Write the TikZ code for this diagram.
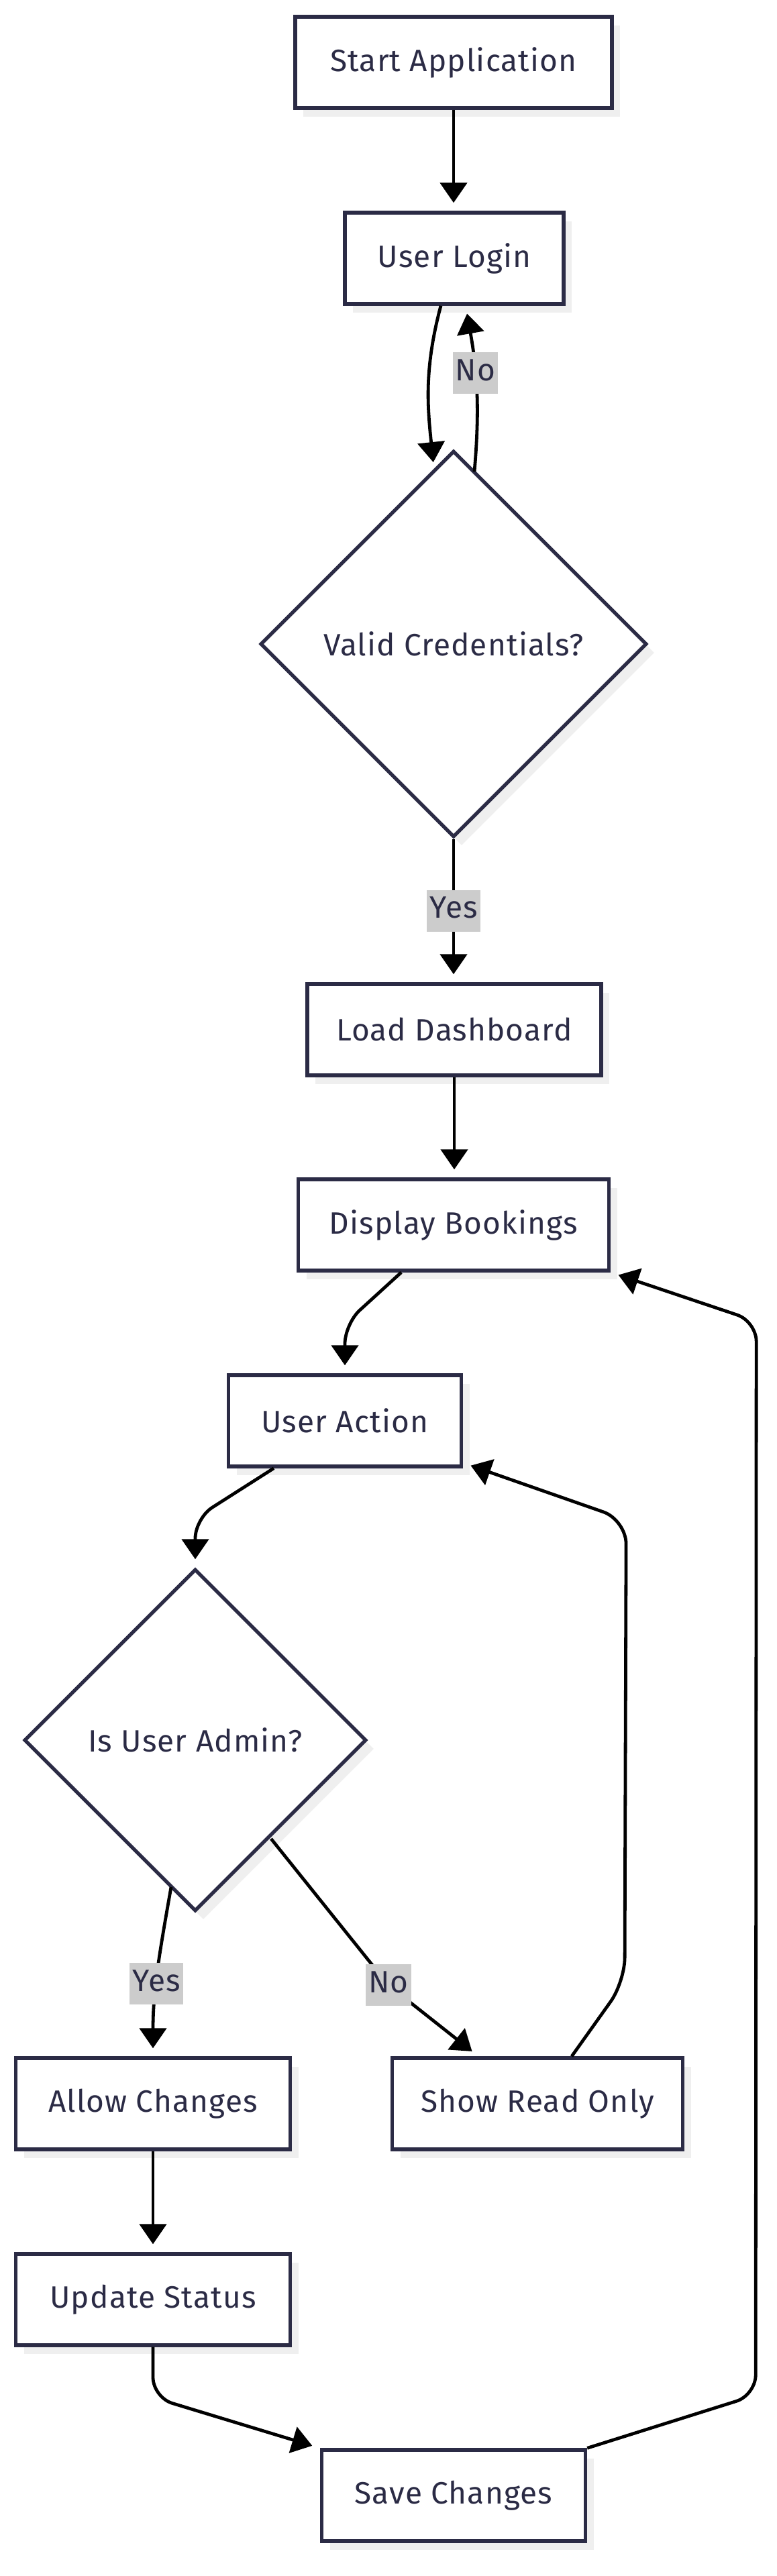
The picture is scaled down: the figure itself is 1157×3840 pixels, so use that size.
\documentclass[tikz,border=0pt]{standalone}
\usepackage{fontspec}
\setmainfont[LetterSpace=2.5]{Fira Sans}
\usetikzlibrary{arrows.meta,shapes.geometric,shadows,calc,positioning}
\definecolor{boxline}{HTML}{2B2B45}
\definecolor{boxtext}{HTML}{2B2B45}
\definecolor{shade}{HTML}{EFEFEF}
\definecolor{tagfill}{HTML}{CCCCCC}

\tikzset{
    proc/.style={draw=boxline, line width=2.7pt, fill=white, minimum height=68pt,
        text=boxtext, font=\fontsize{23}{27}\selectfont,
        drop shadow={shadow xshift=6pt, shadow yshift=-6.5pt, fill=shade, opacity=1}},
    decide/.style={proc, diamond, aspect=1, inner sep=0pt},
    flow/.style={line width=2.4pt, -{Triangle[length=15pt,width=20pt]}, shorten >=6pt},
    tag/.style={fill=tagfill, text=boxtext, font=\fontsize{23}{27}\selectfont, sharp corners,
        inner xsep=2pt, inner ysep=5pt, text height=16pt, text depth=5pt}
}

\begin{document}
\begin{tikzpicture}[x=0.5pt, y=0.5pt]

    % ---------------- Canvas ----------------
    \fill[white] (0,0) rectangle (1157,-3840);
    \useasboundingbox (0,0) rectangle (1157,-3840);

    % ---------------- Login part ----------------
    \node[proc, minimum width=236pt] (start) at (676,-93) {Start Application};
    \node[proc, minimum width=163pt] (login) at (677,-385) {User Login};
    \node[decide, minimum width=288pt, minimum height=288pt] (valid) at (676,-960) {Valid Credentials?};
    \node[proc, minimum width=219pt] (load) at (677,-1535) {Load Dashboard};
    \node[proc, minimum width=231.5pt] (display) at (676,-1826) {Display Bookings};

    % ---------------- Admin part ----------------
    \node[proc, minimum width=173.5pt] (action) at (514,-2118) {User Action};
    \node[decide, minimum width=255pt, minimum height=255pt] (admin) at (291,-2594) {Is User Admin?};
    \node[proc, minimum width=204.5pt] (allow) at (228,-3136) {Allow Changes};
    \node[proc, minimum width=216.5pt] (readonly) at (801,-3136) {Show Read Only};
    \node[proc, minimum width=204.5pt] (update) at (228,-3428) {Update Status};
    \node[proc, minimum width=196.5pt] (save) at (676,-3720) {Save Changes};

    % ---------------- Connectors ----------------
    \draw[flow] (start.south) -- (start.south |- login.north);
    \draw[flow] ($(login.south)+(-20,0)$) to[out=-105,in=96] ($(valid.center)+(-29,259)$);
    \draw[flow] ($(valid.center)+(31,257)$) to[out=85,in=-80]
        node[tag, pos=0.6] {No} ($(login.south)+(17,0)$);
    \draw[flow] (valid.south) -- node[tag] {Yes} (valid.south |- load.north);
    \draw[flow] (load.south) -- (load.south |- display.north);
    \draw[flow, rounded corners=15pt] ($(display.south)+(-78,0)$)
        -- ($(action.north)+(0,74)$) -- (action.north);
    \draw[flow, rounded corners=15pt] ($(action.south)+(-106,0)$)
        -- ($(admin.north)+(0,73)$) -- (admin.north);
    \draw[flow] ($(admin.center)+(-36,-219)$) to[out=-100,in=90]
        node[tag, pos=0.58] {Yes} (allow.north);
    \draw[flow, rounded corners=15pt] ($(admin.center)+(113,-147)$)
        -- ($(readonly.north)+(-222,106)$) node[tag] {No}
        -- ($(readonly.north)+(-88,0)$);
    \draw[flow, rounded corners=18pt] ($(readonly.north)+(51,0)$)
        -- ($(readonly.north)+(130,111)$)
        -- ($(action.south east)+(243,-77)$)
        -- ($(action.south east)+(0,8)$);
    \draw[flow] (allow.south) -- (update.north);
    \draw[flow, rounded corners=15pt] (update.south)
        -- ($(update.south)+(0,-75)$) -- (save.north west);
    \draw[flow, rounded corners=15pt] (save.north east)
        -- ($(save.north east)+(251,79)$)
        -- ($(display.south east)+(217,-73)$)
        -- (display.south east);

\end{tikzpicture}
\end{document}
